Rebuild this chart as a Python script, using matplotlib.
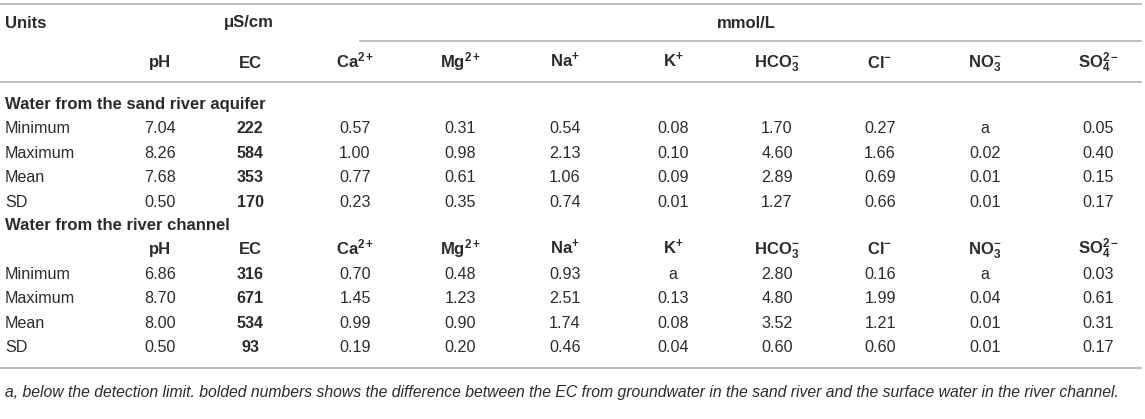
import matplotlib.pyplot as plt

plt.rcParams['font.family'] = ['Liberation Sans', 'DejaVu Sans']
plt.rcParams['mathtext.fontset'] = 'custom'
plt.rcParams['mathtext.rm'] = 'Liberation Sans'
plt.rcParams['mathtext.bf'] = 'Liberation Sans:bold'
plt.rcParams['mathtext.it'] = 'Liberation Sans:italic'

columns = ['pH', 'EC', r'$\mathbf{Ca^{2+}}$', r'$\mathbf{Mg^{2+}}$', r'$\mathbf{Na^{+}}$',
           r'$\mathbf{K^{+}}$', r'$\mathbf{HCO_3^{-}}$', r'$\mathbf{Cl^{-}}$',
           r'$\mathbf{NO_3^{-}}$', r'$\mathbf{SO_4^{2-}}$']
stats = ['Minimum', 'Maximum', 'Mean', 'SD']

aquifer = [
    ['7.04', '222', '0.57', '0.31', '0.54', '0.08', '1.70', '0.27', 'a', '0.05'],
    ['8.26', '584', '1.00', '0.98', '2.13', '0.10', '4.60', '1.66', '0.02', '0.40'],
    ['7.68', '353', '0.77', '0.61', '1.06', '0.09', '2.89', '0.69', '0.01', '0.15'],
    ['0.50', '170', '0.23', '0.35', '0.74', '0.01', '1.27', '0.66', '0.01', '0.17'],
]
channel = [
    ['6.86', '316', '0.70', '0.48', '0.93', 'a', '2.80', '0.16', 'a', '0.03'],
    ['8.70', '671', '1.45', '1.23', '2.51', '0.13', '4.80', '1.99', '0.04', '0.61'],
    ['8.00', '534', '0.99', '0.90', '1.74', '0.08', '3.52', '1.21', '0.01', '0.31'],
    ['0.50', '93', '0.19', '0.20', '0.46', '0.04', '0.60', '0.60', '0.01', '0.17'],
]
footnote = ('a, below the detection limit. bolded numbers shows the difference between the EC '
            'from groundwater in the sand river and the surface water in the river channel.')

W, H = 1145, 419
fig = plt.figure(figsize=(W / 100, H / 100), dpi=100)
ax = fig.add_axes([0, 0, 1, 1])
ax.set_xlim(0, W)
ax.set_ylim(H, 0)
ax.axis('off')

txt = '#2b2b2b'
line = '#b0b0b0'
fs = 11.6
fsb = 12.0
col_x = [160, 250, 355, 460, 565, 673, 777, 880, 985, 1098]

ax.plot([0, 1141], [4, 4], color=line, lw=1.2)
ax.plot([360, 1141], [41, 41], color=line, lw=1.2)
ax.plot([0, 1141], [82, 82], color=line, lw=1.2)
ax.plot([0, 1141], [368, 368], color=line, lw=1.2)

ax.text(5, 27.5, 'Units', ha='left', va='baseline', fontsize=fsb, fontweight='bold', color=txt)
ax.text(249, 27.5, 'μS/cm', ha='center', va='baseline', fontsize=fsb, fontweight='bold', color=txt)
ax.text(746, 27.5, 'mmol/L', ha='center', va='baseline', fontsize=fsb, fontweight='bold', color=txt)


def header(y):
    for x, c in zip(col_x, columns):
        ax.text(x, y + 4.5, c, ha='center', va='baseline', fontsize=fsb,
                fontweight='bold', color=txt)


def block(y0, title, rows, with_header):
    ax.text(5, y0, title, ha='left', va='center', fontsize=fsb, fontweight='bold', color=txt)
    y = y0 + 24.5
    if with_header:
        header(y)
        y += 24.5
    for name, vals in zip(stats, rows):
        ax.text(5, y, name, ha='left', va='center', fontsize=fs, color=txt)
        for i, (x, v) in enumerate(zip(col_x, vals)):
            ax.text(x, y, v, ha='center', va='center', fontsize=fs, color=txt,
                    fontweight='bold' if i == 1 else 'normal')
        y += 24.5


header(63)
block(104, 'Water from the sand river aquifer', aquifer, False)
block(225, 'Water from the river channel', channel, True)

ax.text(5, 392, footnote, ha='left', va='center', fontsize=11.35, style='italic', color=txt)

fig.savefig('out.png', dpi=100)
